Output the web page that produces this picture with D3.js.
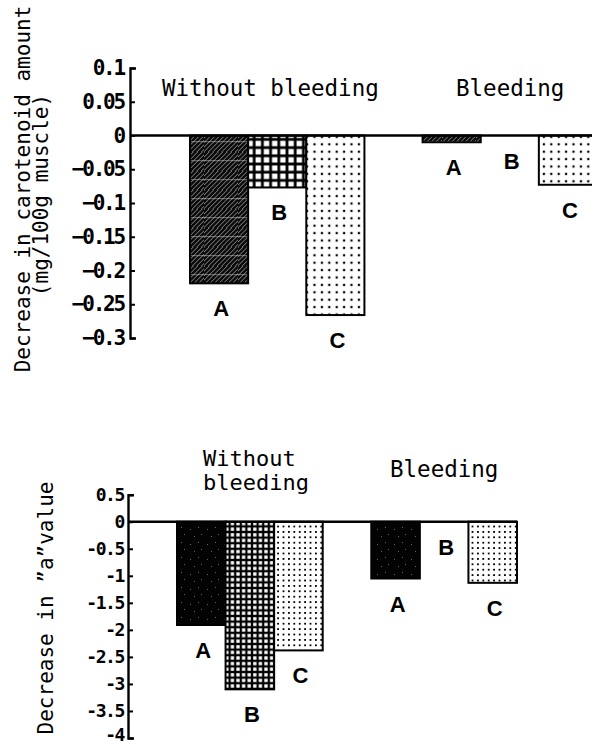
<!DOCTYPE html>
<html>
<head>
<meta charset="utf-8">
<script src="https://cdn.jsdelivr.net/npm/d3@7/dist/d3.min.js"></script>
<style>
  html, body { margin: 0; padding: 0; background: #fff; }
  svg { display: block; }
  .mono { font-family: "DejaVu Sans Mono", "Liberation Mono", monospace; fill: #000; }
  .tick text { font-family: "DejaVu Sans Mono", monospace; font-weight: bold; fill: #000; }
  .barlab { font-family: "Liberation Sans", Arial, sans-serif; font-weight: bold; fill: #000; }
</style>
</head>
<body>
<script>
// ---------- DATA ----------
const groups = ["Without bleeding", "Bleeding"];
const treatments = ["A", "B", "C"];
// Decrease in carotenoid amount (mg/100g muscle)
const carotWithout = [-0.219, -0.077, -0.266];
const carotBleeding = [-0.010, 0, -0.073];
// Decrease in "a" value
const aWithout = [-1.91, -3.10, -2.38];
const aBleeding = [-1.05, 0, -1.13];
// tick values and labels
const carotTicks = [0.1, 0.05, 0, -0.05, -0.1, -0.15, -0.2, -0.25, -0.3];
const carotTickLabels = ["0.1", "0.05", "0", "\u22120.05", "\u22120.1", "\u22120.15", "\u22120.2", "\u22120.25", "\u22120.3"];
const aTicks = [0.5, 0, -0.5, -1, -1.5, -2, -2.5, -3, -3.5, -4];
const aTickLabels = ["0.5", "0", "-0.5", "-1", "-1.5", "-2", "-2.5", "-3", "-3.5", "-4"];
const patternsTop = ["hatchBand", "gridTop", "dotsTop"];
const patternsBottom = ["speckle", "gridBot", "dotsBot"];

// ---------- SETUP ----------
const W = 592, H = 745;
const svg = d3.select("body").append("svg").attr("width", W).attr("height", H);
const defs = svg.append("defs");

// hatch base: dark with thin light "/" lines
const hb = defs.append("pattern").attr("id", "hatchBase").attr("patternUnits", "userSpaceOnUse")
  .attr("width", 3.2).attr("height", 3.2).attr("patternTransform", "rotate(45)");
hb.append("rect").attr("width", 3.2).attr("height", 3.2).attr("fill", "#0a0a0a");
hb.append("rect").attr("x", 0).attr("width", 0.7).attr("height", 3.2).attr("fill", "#fff").attr("opacity", 0.55);
const hband = defs.append("pattern").attr("id", "hatchBand").attr("patternUnits", "userSpaceOnUse")
  .attr("width", 34).attr("height", 19);
hband.append("rect").attr("width", 34).attr("height", 19).attr("fill", "url(#hatchBase)");
hband.append("rect").attr("y", 8).attr("width", 34).attr("height", 1.2).attr("fill", "#fff").attr("opacity", 0.35);

function gridPattern(id, p, w) {
  const g = defs.append("pattern").attr("id", id).attr("patternUnits", "userSpaceOnUse")
    .attr("width", p).attr("height", p);
  g.append("rect").attr("width", p).attr("height", p).attr("fill", "#000");
  g.append("rect").attr("x", (p - w) / 2).attr("y", (p - w) / 2).attr("width", w).attr("height", w).attr("fill", "#fff");
}
gridPattern("gridTop", 8.2, 5.4);
gridPattern("gridBot", 5.6, 3.3);

function dotPattern(id, p, d) {
  const g = defs.append("pattern").attr("id", id).attr("patternUnits", "userSpaceOnUse")
    .attr("width", p).attr("height", p);
  g.append("rect").attr("width", p).attr("height", p).attr("fill", "#fff");
  g.append("rect").attr("x", (p - d) / 2).attr("y", (p - d) / 2).attr("width", d).attr("height", d).attr("fill", "#000");
}
dotPattern("dotsTop", 7.4, 2.2);
dotPattern("dotsBot", 5.4, 1.8);

const sp = defs.append("pattern").attr("id", "speckle").attr("patternUnits", "userSpaceOnUse")
  .attr("width", 17).attr("height", 15);
sp.append("rect").attr("width", 17).attr("height", 15).attr("fill", "#030303");
[[3, 4], [11, 2], [7, 11], [14, 9]].forEach(([x, y]) =>
  sp.append("rect").attr("x", x).attr("y", y).attr("width", 1).attr("height", 1).attr("fill", "#666"));

const slots = ["WA", "WB", "WC", "gap", "BA", "BB", "BC"];

function drawPanel(cfg) {
  const y = d3.scaleLinear().domain(cfg.domain).range(cfg.yRange);
  const x = d3.scaleBand().domain(slots).range(cfg.xRange).padding(0);

  const axis = d3.axisLeft(y).tickValues(cfg.ticks)
    .tickFormat((d, i) => cfg.tickLabels[i])
    .tickSizeInner(-5).tickSizeOuter(-6).tickPadding(cfg.tickPad);
  const ax = svg.append("g").attr("transform", `translate(${cfg.axisX},0)`).call(axis);
  ax.select(".domain").attr("stroke", "#000").attr("stroke-width", 2.4);
  ax.selectAll(".tick line").attr("stroke", "#000").attr("stroke-width", 2);
  ax.selectAll(".tick text").attr("font-size", cfg.tickFont).attr("letter-spacing", cfg.tickLS);
  // keep the lowest label inside the picture
  ax.selectAll(".tick text").filter((d, i, n) => i === n.length - 1 && cfg.lastUp)
    .attr("dy", "0.15em");

  const data = [];
  cfg.values.forEach((vals, gi) => vals.forEach((v, ti) => data.push({
    slot: (gi === 0 ? "W" : "B") + treatments[ti], v, t: treatments[ti], pat: cfg.patterns[ti]
  })));

  svg.append("g").selectAll("rect").data(data.filter(d => d.v !== 0)).join("rect")
    .attr("x", d => x(d.slot))
    .attr("y", y(0))
    .attr("width", x.bandwidth())
    .attr("height", d => y(d.v) - y(0))
    .attr("fill", d => `url(#${d.pat})`)
    .attr("stroke", "#000").attr("stroke-width", 2);

  // zero line
  svg.append("line").attr("x1", cfg.axisX).attr("x2", cfg.zeroEnd)
    .attr("y1", y(0)).attr("y2", y(0)).attr("stroke", "#000").attr("stroke-width", 2.4);

  svg.append("g").selectAll("text").data(data).join("text")
    .attr("class", "barlab")
    .attr("x", d => x(d.slot) + x.bandwidth() / 2 + 2)
    .attr("y", d => y(d.v) + 33)
    .attr("text-anchor", "middle")
    .attr("font-size", 22)
    .text(d => d.t);
}

drawPanel({
  domain: [0.1, -0.3], yRange: [68, 338], xRange: [190, 597], axisX: 130, zeroEnd: 592,
  ticks: carotTicks, tickLabels: carotTickLabels, tickFont: 21, tickLS: -2.2, tickPad: 6,
  values: [carotWithout, carotBleeding], patterns: patternsTop, lastUp: false
});
drawPanel({
  domain: [0.5, -4], yRange: [494.7, 738], xRange: [177, 517], axisX: 128, zeroEnd: 517,
  ticks: aTicks, tickLabels: aTickLabels, tickFont: 18, tickLS: -1.4, tickPad: 4,
  values: [aWithout, aBleeding], patterns: patternsBottom, lastUp: true
});

// group titles
svg.append("text").attr("class", "mono").attr("x", 162).attr("y", 96).attr("font-size", 22.5).text(groups[0]);
svg.append("text").attr("class", "mono").attr("x", 456).attr("y", 96).attr("font-size", 22.5).text(groups[1]);
const wb = groups[0].split(" ");
svg.append("text").attr("class", "mono").attr("x", 203).attr("y", 466).attr("font-size", 22).text(wb[0]);
svg.append("text").attr("class", "mono").attr("x", 203).attr("y", 490).attr("font-size", 22).text(wb[1]);
svg.append("text").attr("class", "mono").attr("x", 390).attr("y", 477).attr("font-size", 22.5).text(groups[1]);

// y axis titles
svg.append("text").attr("class", "mono").attr("font-size", 21).attr("text-anchor", "middle")
  .attr("transform", "translate(30,189) rotate(-90)").text("Decrease in carotenoid amount");
svg.append("text").attr("class", "mono").attr("font-size", 21).attr("text-anchor", "middle")
  .attr("transform", "translate(48,195) rotate(-90)").text("(mg/100g muscle)");
svg.append("text").attr("class", "mono").attr("font-size", 21).attr("text-anchor", "middle")
  .attr("transform", "translate(53,608) rotate(-90)").text("Decrease in \u201Da\u201Dvalue");
</script>
</body>
</html>
